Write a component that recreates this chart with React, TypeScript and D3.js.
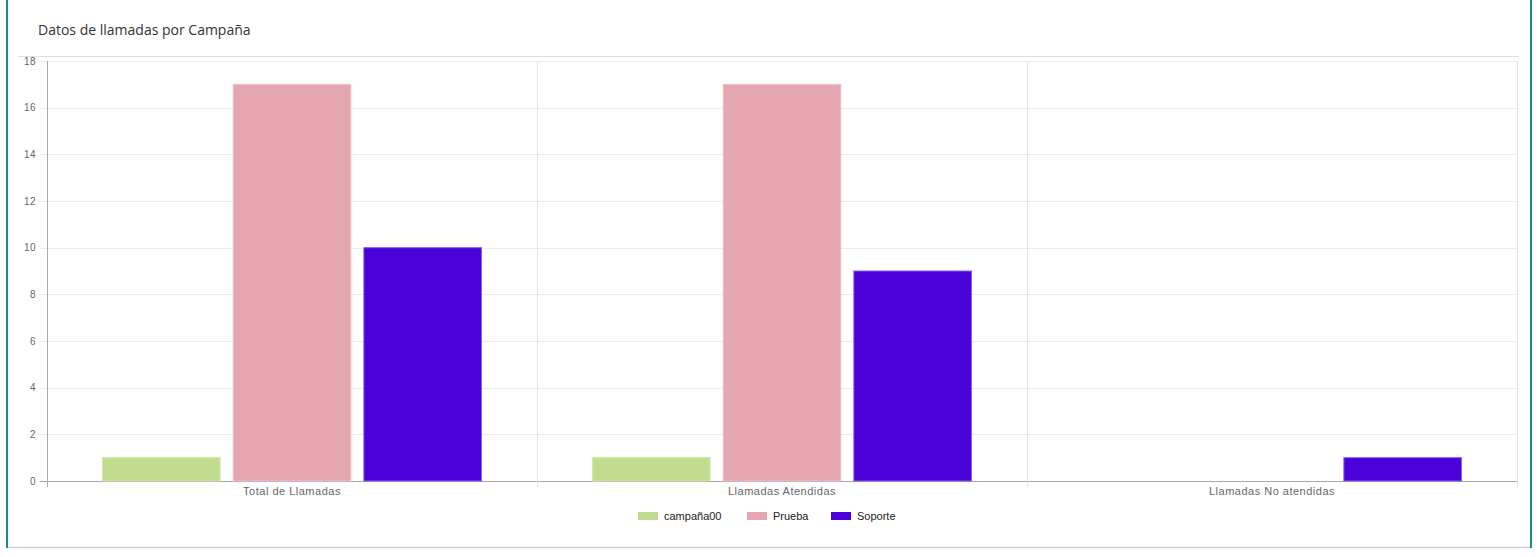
import React from "react";
import * as d3 from "d3";

const categories = ["Total de Llamadas", "Llamadas Atendidas", "Llamadas No atendidas"];
const seriesNames = ["campaña00", "Prueba", "Soporte"];
const campana00 = [1, 1, 0];
const prueba = [17, 17, 0];
const soporte = [10, 9, 1];
const yTicks = [0, 2, 4, 6, 8, 10, 12, 14, 16, 18];
const colors = ["#c2dc8f", "#e5a6b1", "#4a00d9"];
const borders = ["#d2e8a8", "#efc0c8", "#8a5cf0"];
const title = "Datos de llamadas por Campaña";

export default function App() {
  const W = 1540, H = 557;
  const left = 47, right = 1517, top = 61, bottom = 481;
  const series = [campana00, prueba, soporte];
  const x = d3.scaleBand<string>().domain(categories).range([left, right]).paddingInner(0).paddingOuter(0);
  const y = d3.scaleLinear().domain([0, 18]).range([bottom, top]);
  const bw = x.bandwidth();
  const inner = d3.scaleBand<number>().domain([0, 1, 2]).range([0, bw * 0.8]);
  const slot = inner.bandwidth();
  const barW = slot * 0.9;
  const font = "'Liberation Sans', Arial, sans-serif";
  const legendX = [638, 747, 831];

  return (
    <svg width={W} height={H} style={{ position: "absolute", left: 0, top: 0 }}>
      <rect x={0} y={0} width={W} height={H} fill="#ffffff" />
      <line x1={7} y1={547.5} x2={1531} y2={547.5} stroke="#d0d0d0" strokeWidth={1.5} />
      <line x1={7} y1={0} x2={7} y2={548} stroke="#14917a" strokeWidth={2} />
      <line x1={1531} y1={0} x2={1531} y2={548} stroke="#14917a" strokeWidth={2} />
      <text x={38} y={35} fontFamily="'Open Sans', 'Noto Sans', sans-serif" fontSize={14} fill="#333">
        {title}
      </text>
      <line x1={18} y1={56.5} x2={1519} y2={56.5} stroke="#dedede" strokeWidth={1} />

      {yTicks.map((t) => (
        <g key={"g" + t}>
          <line x1={40} x2={right} y1={Math.round(y(t)) + 0.5} y2={Math.round(y(t)) + 0.5}
            stroke={t === 0 ? "#a8a8a8" : "#ececec"} strokeWidth={1} />
          <text x={36} y={y(t) + 3.5} textAnchor="end" fontFamily={font} fontSize={10} fill="#666" letterSpacing={0.4}>
            {t}
          </text>
        </g>
      ))}
      {[0, 1, 2, 3].map((i) => {
        const xx = Math.round(left + i * bw) + 0.5;
        return (
          <line key={"v" + i} x1={xx} x2={xx} y1={top} y2={bottom + 6}
            stroke={i === 0 ? "#a8a8a8" : "#e3e3e3"} strokeWidth={1} />
        );
      })}
      {categories.map((c, ci) =>
        series.map((s, si) => {
          const v = s[ci];
          if (!v) return null;
          const bx = (x(c) as number) + bw * 0.1 + (inner(si) as number) + (slot - barW) / 2;
          return (
            <rect key={c + si} x={bx} y={y(v)} width={barW} height={y(0) - y(v)}
              fill={colors[si]} stroke={borders[si]} strokeWidth={1} />
          );
        })
      )}
      {categories.map((c) => (
        <text key={"xl" + c} x={(x(c) as number) + bw / 2} y={495} textAnchor="middle"
          fontFamily={font} fontSize={11} fill="#666" letterSpacing={0.5}>
          {c}
        </text>
      ))}
      {seriesNames.map((n, i) => (
        <g key={"lg" + n}>
          <rect x={legendX[i]} y={512} width={20} height={8} fill={colors[i]} />
          <text x={legendX[i] + 26} y={519.5} fontFamily={font} fontSize={11} fill="#222">
            {n}
          </text>
        </g>
      ))}
    </svg>
  );
}
